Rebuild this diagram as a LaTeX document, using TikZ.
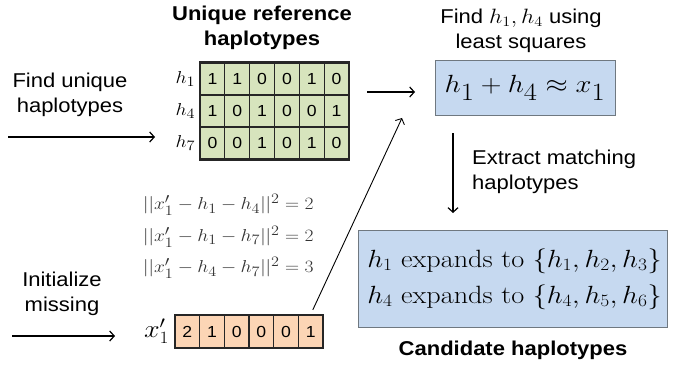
\documentclass[tikz,border=0pt]{standalone}
\usepackage{fontspec}
\usepackage{amsmath}
\usepackage{graphicx}
\newfontfamily\arial[FakeStretch=1.1]{Liberation Sans}
\usetikzlibrary{arrows.meta}
\definecolor{cellgreen}{HTML}{D7E4BD}
\definecolor{cellorange}{HTML}{FCD5B5}
\definecolor{boxblue}{HTML}{C6D9F0}
\definecolor{boxedge}{HTML}{6F7880}
\definecolor{eqgray}{HTML}{333333}
\newcommand{\wide}[1]{\scalebox{1.13}[1]{#1}}
\tikzset{
  gcell/.style={draw=black!85, line width=1.2pt, fill=cellgreen, minimum width=24.83pt, minimum height=32pt, inner sep=0pt, font=\arial\fontsize{16}{18}\selectfont},
  ocell/.style={draw=black!85, line width=1.2pt, fill=cellorange, minimum width=24.67pt, minimum height=33pt, inner sep=0pt, font=\arial\fontsize{16}{18}\selectfont},
  lab/.style={font=\arial\fontsize{20}{25}\selectfont, align=center, inner sep=0pt},
  boldlab/.style={font=\arial\bfseries\fontsize{20}{25}\selectfont, align=center, inner sep=0pt},
  bluebox/.style={draw=boxedge, line width=1pt, fill=boxblue, inner sep=0pt},
  arr/.style={line width=1.2pt, -{Straight Barb[length=4.5pt,width=10pt]}},
  thinarr/.style={line width=0.9pt, -{Straight Barb[length=4.5pt,width=10pt]}}
}
\begin{document}
\begin{tikzpicture}[x=1pt,y=-1pt]
\useasboundingbox (0,0) rectangle (678,369);

% green matrix
\foreach \r/\lst in {1/{1,1,0,0,1,0},2/{1,0,1,0,0,1},3/{0,0,1,0,1,0}}{
  \foreach \v [count=\c] in \lst {
    \node[gcell] (g-\r-\c) at ({200+24.83*(\c-0.5)},{63+32*(\r-0.5)}) {\v};
  }
}
\draw[black!85, line width=1.8pt] (g-1-1.north west) rectangle (g-3-6.south east);

\node[anchor=east, inner sep=0pt, font=\fontsize{19}{24}\selectfont] (l1) at ([xshift=-4pt]g-1-1.west) {\wide{$h_1$}};
\node[anchor=east, inner sep=0pt, font=\fontsize{19}{24}\selectfont] (l4) at ([xshift=-4pt]g-2-1.west) {\wide{$h_4$}};
\node[anchor=east, inner sep=0pt, font=\fontsize{19}{24}\selectfont] (l7) at ([xshift=-4pt]g-3-1.west) {\wide{$h_7$}};

% orange row
\foreach \v [count=\c] in {2,1,0,0,0,1} {
  \node[ocell] (o-\c) at ({175+24.67*(\c-0.5)},331.5) {\v};
}
\draw[black!85, line width=1.5pt] (o-1.north west) rectangle (o-6.south east);
\node[anchor=east, inner sep=0pt, font=\fontsize{23}{28}\selectfont] (xl) at ([xshift=-5pt]o-1.west) {\wide{$x_1'$}};

% texts
\node[boldlab] (uniq) at (262,28) {Unique reference\\haplotypes};
\node[lab] (findu) at (70,95) {Find unique\\haplotypes};
\node[lab] (init) at (62,294) {Initialize\\missing};
\node[lab] (findh) at (521,31) {Find \wide{$h_1, h_4$} using\\least squares};
\node[lab, align=left, anchor=west] (extr) at (472,172) {Extract matching\\haplotypes};
\node[boldlab] (cand) at (513,350) {Candidate haplotypes};

\node[anchor=west, align=left, inner sep=0pt, text=eqgray, font=\fontsize{19}{31.5}\selectfont] (eqs) at (143,236.5)
  {\wide{$||x_1'-h_1-h_4||^2=2$}\\\wide{$||x_1'-h_1-h_7||^2=2$}\\\wide{$||x_1'-h_4-h_7||^2=3$}};

% blue boxes
\node[bluebox, minimum width=180pt, minimum height=55pt, font=\fontsize{33}{36}\selectfont] (top) at (525,88) {\scalebox{1.15}[1]{$h_1+h_4\approx x_1$}};
\node[bluebox, minimum width=309pt, minimum height=97pt, align=left, font=\fontsize{25}{36}\selectfont] (bot) at (512.5,279)
  {\hspace*{4pt}\scalebox{1.13}[1]{$h_1$ expands to $\{h_1,h_2,h_3\}$}\\\hspace*{4pt}\scalebox{1.13}[1]{$h_4$ expands to $\{h_4,h_5,h_6\}$}};

% free ends
\coordinate (a1s) at (8,137);
\coordinate (a1e) at (155,137);
\coordinate (a2s) at (12,336);
\coordinate (a2e) at (115,336);
\coordinate (a3s) at (367,92);
\coordinate (a3e) at (415,92);
\coordinate (a4e) at (402,118);
\coordinate (a5s) at (453,133);
\coordinate (a5e) at (453,213);

\draw[arr] (a1s) -- (a1e);
\draw[arr] (a2s) -- (a2e);
\draw[arr] (a3s) -- (a3e);
\draw[thinarr, shorten <=5pt] (o-6.north) -- (a4e);
\draw[arr] (a5s) -- (a5e);
\end{tikzpicture}
\end{document}
